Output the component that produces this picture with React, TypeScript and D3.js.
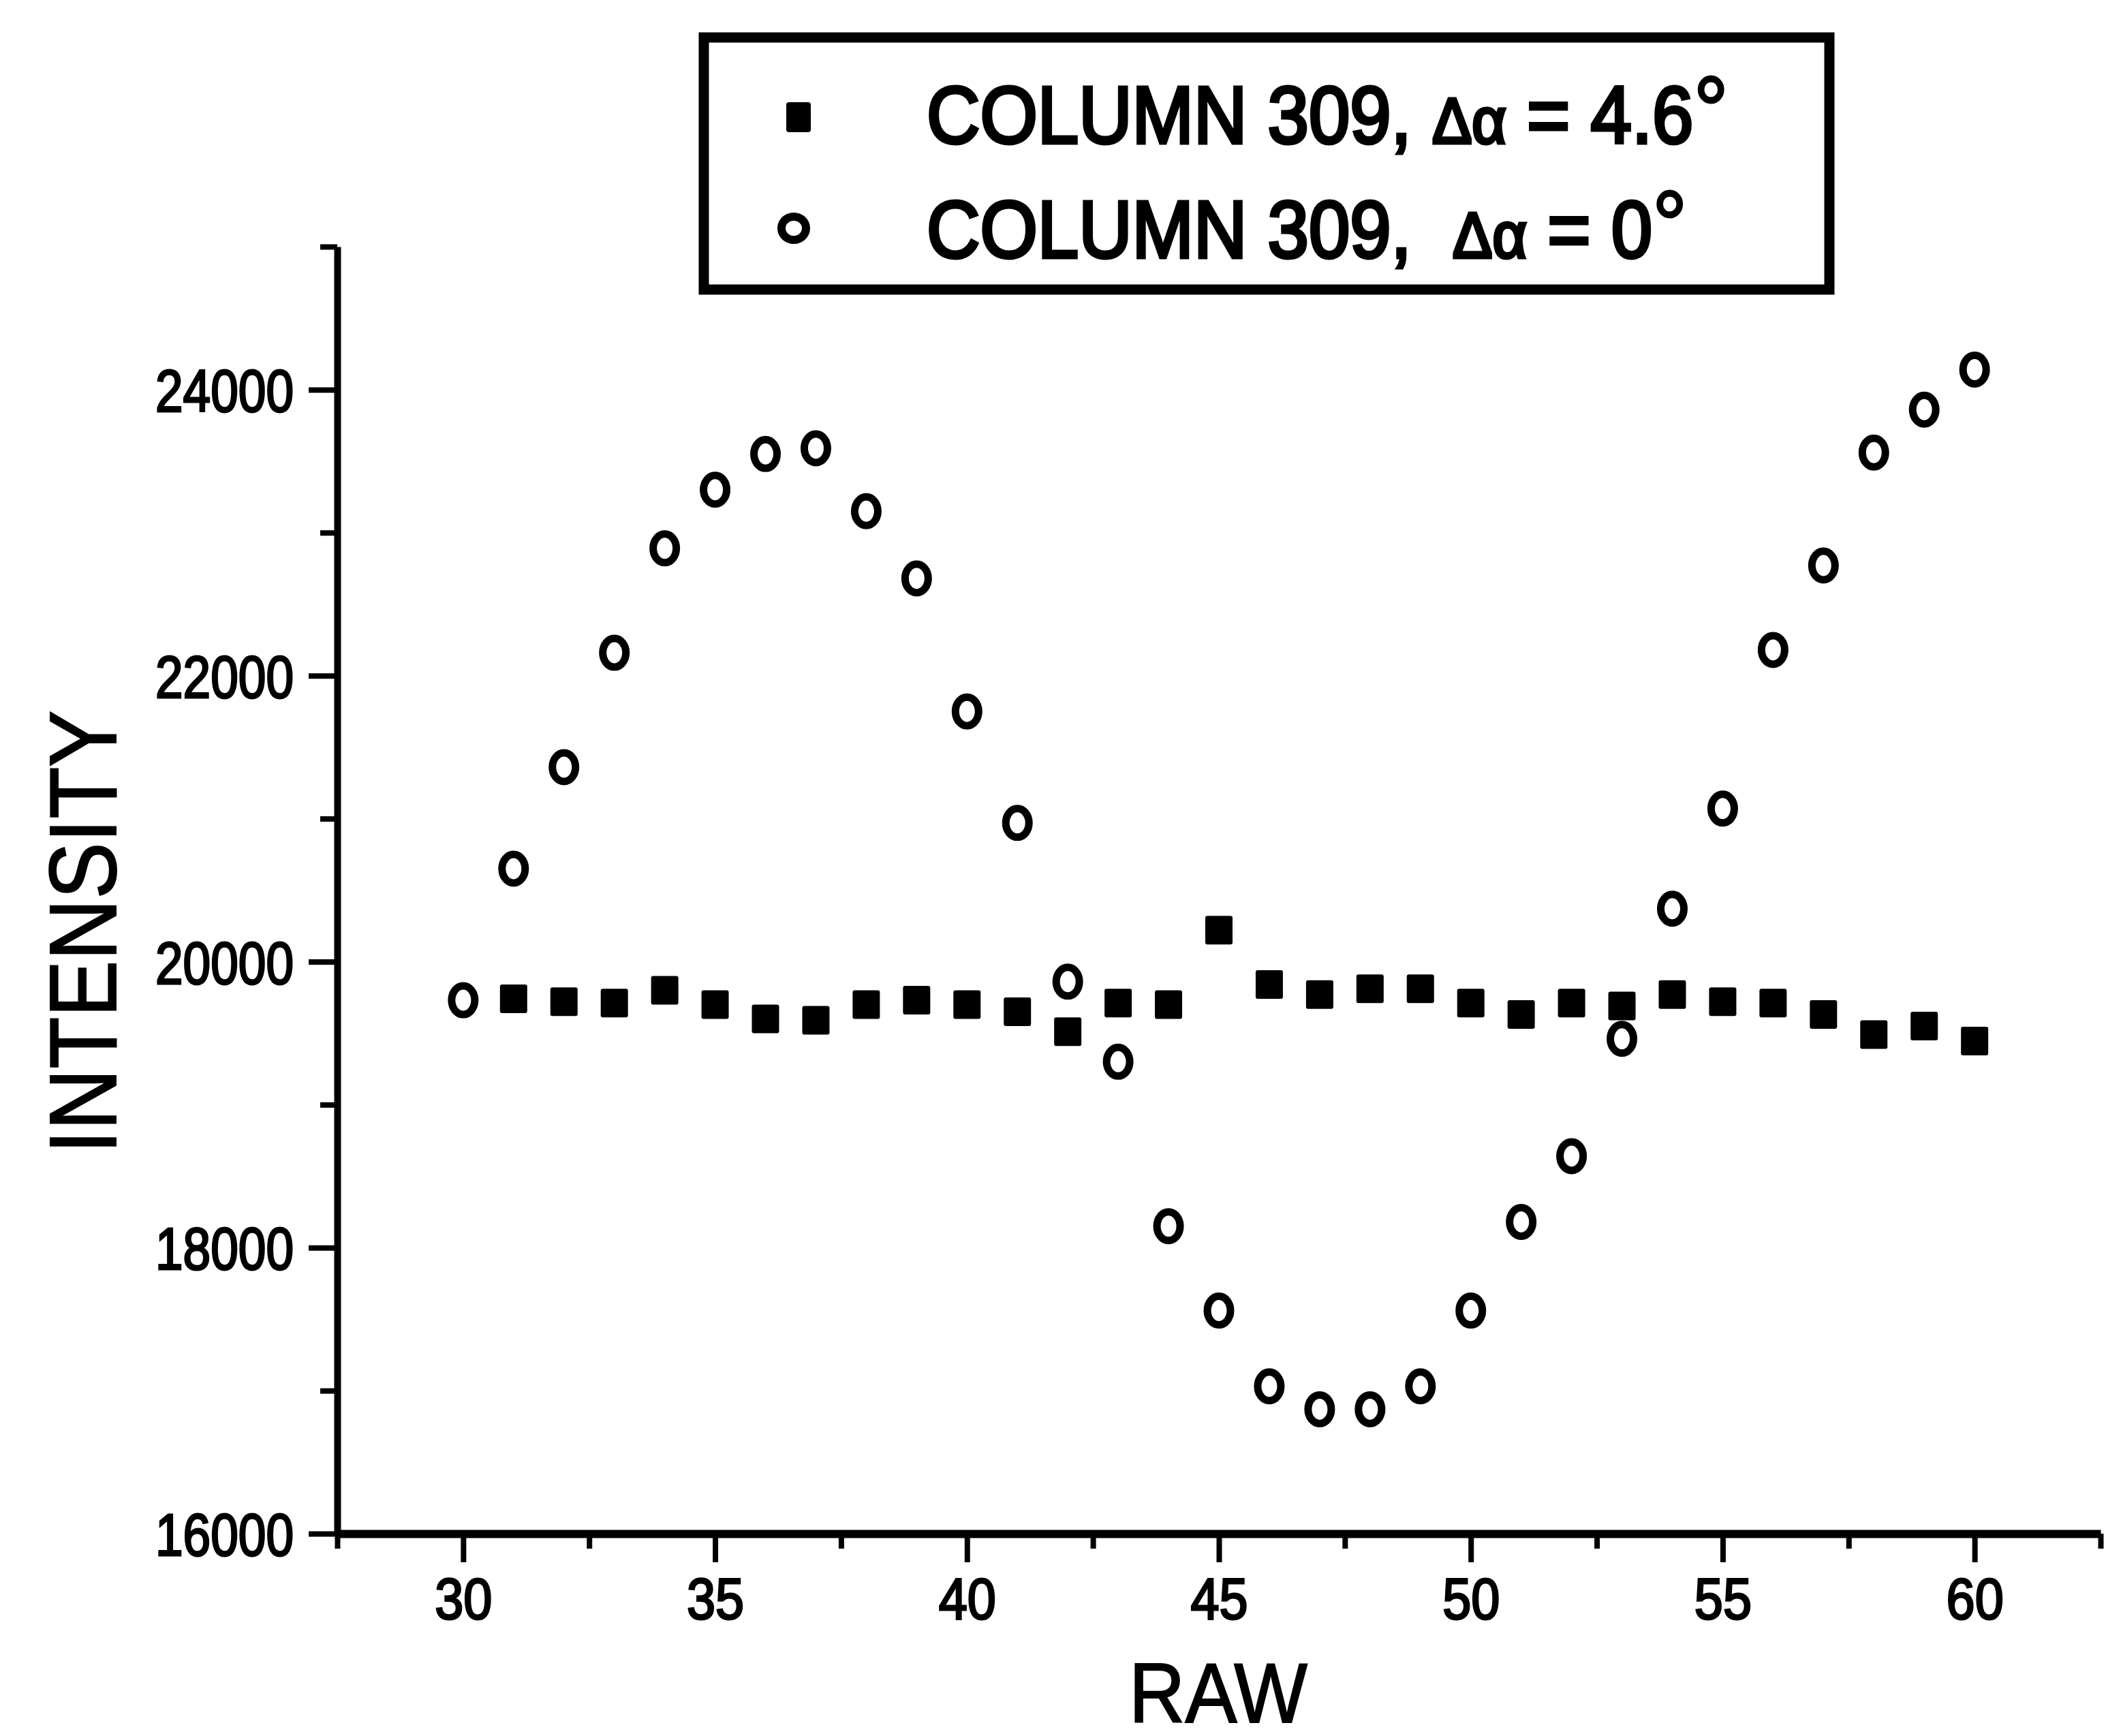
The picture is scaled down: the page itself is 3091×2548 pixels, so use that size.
// IntensityChart.tsx

import React, { useEffect, useRef } from "react";
import * as d3 from "d3";

const WIDTH = 3091;
const HEIGHT = 2548;

// Δα = 0° series (open circles)
const rawOpen = [30, 31, 32, 33, 34, 35, 36, 37, 38, 39, 40, 41, 42, 43, 44, 45, 46, 47, 48, 49, 50, 51, 52, 53, 54, 55, 56, 57, 58, 59, 60];
const intensityOpen = [
  19730, 20650, 21360, 22160, 22890, 23300, 23550, 23590, 23150, 22680, 21750,
  20970, 19860, 19300, 18150, 17560, 17030, 16870, 16870, 17030, 17560, 18180,
  18640, 19460, 20370, 21070, 22180, 22770, 23560, 23860, 24140,
];

// Δα = 4.6° series (filled squares)
const rawFilled = [31, 32, 33, 34, 35, 36, 37, 38, 39, 40, 41, 42, 43, 44, 45, 46, 47, 48, 49, 50, 51, 52, 53, 54, 55, 56, 57, 58, 59, 60];
const intensityFilled = [
  19740, 19720, 19710, 19800, 19700, 19600, 19590, 19700, 19730, 19700, 19650,
  19510, 19710, 19700, 20220, 19840, 19770, 19810, 19810, 19710, 19630, 19710,
  19690, 19770, 19720, 19710, 19630, 19490, 19550, 19445,
];

const xMajorTicks = [30, 35, 40, 45, 50, 55, 60];
const xMinorTicks = [27.5, 32.5, 37.5, 42.5, 47.5, 52.5, 57.5, 62.5];
const yMajorTicks = [16000, 18000, 20000, 22000, 24000];
const yMinorTicks = [17000, 19000, 21000, 23000, 25000];

const FONT = "'Liberation Sans', Arial, Helvetica, sans-serif";

const IntensityChart = () => {
  const chartRef = useRef<SVGSVGElement | null>(null);

  useEffect(() => {
    const svg = d3.select(chartRef.current);
    svg.selectAll("*").remove();

    const x = d3.scaleLinear().domain([27.5, 62.5]).range([495, 3083]);
    const y = d3.scaleLinear().domain([16000, 25000]).range([2251, 362]);

    svg.append("rect").attr("width", WIDTH).attr("height", HEIGHT).attr("fill", "#fff");

    // minor ticks first, the main axes draw over them
    const xMinor = svg
      .append("g")
      .attr("transform", `translate(0, ${y(16000)})`)
      .call(d3.axisBottom(x).tickValues(xMinorTicks).tickSize(22).tickSizeOuter(0).tickFormat(() => ""));
    xMinor.select(".domain").remove();
    xMinor.selectAll("line").attr("stroke", "#000").attr("stroke-width", 8);

    const yMinor = svg
      .append("g")
      .attr("transform", `translate(${x(27.5)}, 0)`)
      .call(d3.axisLeft(y).tickValues(yMinorTicks).tickSize(25).tickSizeOuter(0).tickFormat(() => ""));
    yMinor.select(".domain").remove();
    yMinor.selectAll("line").attr("stroke", "#000").attr("stroke-width", 8);

    // x axis (axis() resets font attrs on its group, so set them after the call)
    const xAxis = svg
      .append("g")
      .attr("transform", `translate(0, ${y(16000)})`)
      .call(d3.axisBottom(x).tickValues(xMajorTicks).tickSize(42).tickSizeOuter(0).tickFormat(d3.format("d")))
      .attr("font-family", FONT)
      .attr("font-size", 86);
    xAxis.select(".domain").attr("stroke", "#000").attr("stroke-width", 12);
    xAxis.selectAll("line").attr("stroke", "#000").attr("stroke-width", 8);
    xAxis
      .selectAll("text")
      .attr("y", 125)
      .attr("dy", null)
      .attr("fill", "#000")
      .attr("stroke", "#000")
      .attr("stroke-width", 3)
      .attr("transform", "scale(0.88,1)");

    // y axis
    const yAxis = svg
      .append("g")
      .attr("transform", `translate(${x(27.5)}, 0)`)
      .call(d3.axisLeft(y).tickValues(yMajorTicks).tickSize(42).tickSizeOuter(0).tickFormat(d3.format("d")))
      .attr("font-family", FONT)
      .attr("font-size", 88);
    yAxis.select(".domain").attr("stroke", "#000").attr("stroke-width", 10);
    yAxis.selectAll("line").attr("stroke", "#000").attr("stroke-width", 8);
    yAxis
      .selectAll("text")
      .attr("x", -64 / 0.83)
      .attr("dy", "0.36em")
      .attr("fill", "#000")
      .attr("stroke", "#000")
      .attr("stroke-width", 3)
      .attr("transform", "scale(0.83,1)");

    // axis titles
    svg
      .append("text")
      .attr("transform", "translate(170, 1368) rotate(-90) scale(0.89,1)")
      .attr("text-anchor", "middle")
      .attr("font-family", FONT)
      .attr("font-size", 140)
      .attr("stroke", "#000")
      .attr("stroke-width", 2)
      .text("INTENSITY");

    svg
      .append("text")
      .attr("transform", "translate(1788, 2528) scale(0.92,1)")
      .attr("text-anchor", "middle")
      .attr("font-family", FONT)
      .attr("font-size", 124)
      .attr("stroke", "#000")
      .attr("stroke-width", 2)
      .text("RAW");

    // data: filled squares
    svg
      .append("g")
      .selectAll("rect")
      .data(rawFilled)
      .enter()
      .append("rect")
      .attr("x", (d) => x(d) - 20)
      .attr("y", (d, i) => y(intensityFilled[i]) - 21)
      .attr("width", 40)
      .attr("height", 42)
      .attr("rx", 3)
      .attr("fill", "#000");

    // data: open circles
    svg
      .append("g")
      .selectAll("ellipse")
      .data(rawOpen)
      .enter()
      .append("ellipse")
      .attr("cx", (d) => x(d))
      .attr("cy", (d, i) => y(intensityOpen[i]))
      .attr("rx", 17)
      .attr("ry", 21)
      .attr("fill", "none")
      .attr("stroke", "#000")
      .attr("stroke-width", 11);

    // legend
    const legend = svg.append("g").attr("font-family", FONT);
    legend
      .append("rect")
      .attr("x", 1033)
      .attr("y", 55)
      .attr("width", 1652)
      .attr("height", 370)
      .attr("fill", "#fff")
      .attr("stroke", "#000")
      .attr("stroke-width", 15);

    legend
      .append("rect")
      .attr("x", 1172 - 18)
      .attr("y", 172 - 22)
      .attr("width", 36)
      .attr("height", 44)
      .attr("rx", 4)
      .attr("fill", "#000");
    legend
      .append("ellipse")
      .attr("cx", 1165)
      .attr("cy", 335)
      .attr("rx", 18)
      .attr("ry", 17)
      .attr("fill", "none")
      .attr("stroke", "#000")
      .attr("stroke-width", 12);

    const rows = [
      { y: 210, lead: "COLUMN 309, ", value: "4.6" },
      { y: 378, lead: "COLUMN 309,  ", value: "0" },
    ];
    rows.forEach((row) => {
      const t = legend
        .append("text")
        .attr("transform", `translate(1360, ${row.y}) scale(0.92,1)`)
        .attr("font-size", 118)
        .attr("stroke", "#000")
        .attr("stroke-width", 5)
        .attr("xml:space", "preserve")
        .style("white-space", "pre");
      t.append("tspan").text(row.lead);
      t.append("tspan").attr("font-size", 95).text("Δα");
      t.append("tspan").text(" = " + row.value);
      t.append("tspan").attr("font-size", 140).attr("stroke-width", 3).text("°");
    });
  }, []);

  return (
    <svg
      ref={chartRef}
      width={WIDTH}
      height={HEIGHT}
      style={{ position: "absolute", left: 0, top: 0, background: "#fff" }}
    ></svg>
  );
};

export default function App() {
  return <IntensityChart />;
}
